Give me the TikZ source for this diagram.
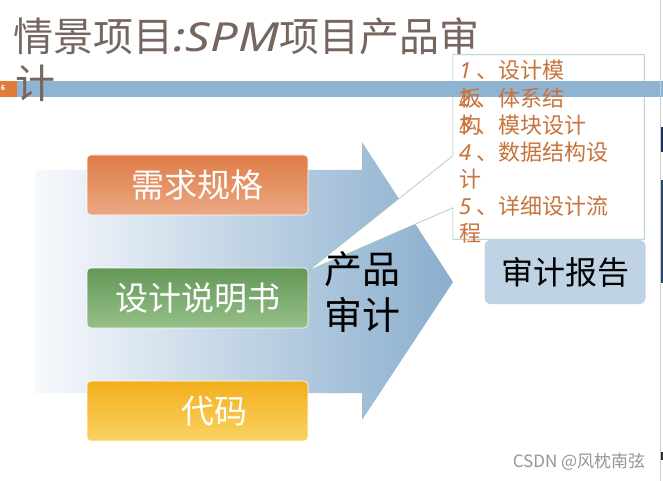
\documentclass[tikz,border=0pt]{standalone}
\usepackage{fontspec}
\setmainfont{Noto Sans CJK SC}
\newfontfamily\latinit{Noto Sans}
\usetikzlibrary{calc}
\definecolor{titlegray}{HTML}{76665F}
\definecolor{barblue}{HTML}{8FB4D1}
\definecolor{tabor}{HTML}{E07B39}
\definecolor{calltext}{HTML}{C7733B}
\definecolor{callline}{HTML}{9CC6B6}
\definecolor{reportfill}{HTML}{BFD3E5}
\definecolor{arrowL}{HTML}{F7F9FC}
\definecolor{arrowR}{HTML}{8AAECD}
\definecolor{orT}{HTML}{DF7C46}
\definecolor{orB}{HTML}{EBA884}
\definecolor{grT}{HTML}{649758}
\definecolor{grB}{HTML}{96C088}
\definecolor{yeT}{HTML}{F3AF1C}
\definecolor{yeB}{HTML}{F9D262}
\definecolor{wmgray}{HTML}{969696}
\definecolor{edgeA}{HTML}{1E325A}
\definecolor{edgeB}{HTML}{28466E}
\definecolor{edgeC}{HTML}{282828}
\newcommand{\numx}[1]{\makebox[17pt][l]{\latinit\itshape #1}}
\tikzset{
  inbox/.style={rectangle, rounded corners=4pt, minimum width=221pt, minimum height=60pt,
    draw=white, line width=0.6pt, text=white, font=\fontsize{33}{36}\selectfont, inner sep=0pt},
  calltxt/.style={anchor=west, inner sep=0pt, text=calltext, font=\fontsize{22}{24}\selectfont},
  titletxt/.style={anchor=base west, inner sep=0pt, text=titlegray, font=\fontsize{40}{40}\selectfont},
}
\begin{document}
\begin{tikzpicture}[x=1pt,y=-1pt]
\useasboundingbox (0,0) rectangle (663,481);
\fill[white] (0,0) rectangle (663,481);
% big arrow
\shade[left color=arrowL, right color=arrowR]
  (35,170) -- (362,170) -- (362,142) -- (453,282) -- (362,420) -- (362,393) -- (35,393) -- cycle;
% input boxes
\node[inbox, top color=orT, bottom color=orB] (req) at (197.5,185) {需求规格};
\node[inbox, top color=grT, bottom color=grB] (spec) at (197.5,298) {设计说明书};
\node[inbox, top color=yeT, bottom color=yeB] (code) at (197.5,411) {\hspace*{33pt}代码};
% callout box
\node[rectangle, minimum width=191pt, minimum height=184pt, inner sep=0pt] (call) at (548.5,147) {};
\coordinate (tip) at ($(spec.north east)+(0,3)$);
\filldraw[fill=white, draw=callline, line width=0.6pt]
  (call.north west) -- ($(call.north west)+(0,101)$) -- (tip) -- ($(call.north west)+(0,153)$)
  -- (call.south west) -- (call.south east) -- (call.north east) -- cycle;
% header bar
\fill[barblue] (0,81) rectangle (663,97);
\fill[tabor] (0,81) rectangle (17,97);
\node[text=white, font=\fontsize{7}{8}\selectfont\bfseries, inner sep=0pt] (pg) at (3,88) {6};
% callout texts
\node[calltxt] (c1) at (459,70) {\numx{1}、设计模};
\node[calltxt] (c2a) at (459,98) {板};
\node[calltxt] (c2) at (459,98) {\numx{2}、体系结};
\node[calltxt] (c3a) at (459,125) {构};
\node[calltxt] (c3) at (459,125) {\numx{3}、模块设计};
\node[calltxt] (c4) at (459,152) {\numx{4}、数据结构设};
\node[calltxt] (c5) at (459,179) {计};
\node[calltxt] (c6) at (459,206) {\numx{5}、详细设计流};
\node[calltxt] (c7) at (459,233) {程};
% title
\node[titletxt] (t1) at (13,52)
  {情景项目\scalebox{1.22}[1]{\latinit\itshape :SPM}项目产品审};
\node[titletxt] (t2) at (15,99) {计};
% centre label
\node[inner sep=0pt, align=center, font=\fontsize{38}{46}\selectfont, text=black] (audit) at (362,292) {产品\\审计};
% report box
\node[rectangle, rounded corners=6pt, fill=reportfill, minimum width=161pt, minimum height=64pt,
  inner sep=0pt, font=\fontsize{32}{34}\selectfont, text=black] (rep) at (565,272) {审计报告};
% watermark
\node[inner sep=0pt, text=wmgray, font=\fontsize{17}{18}\selectfont] (wm) at (579,462) {CSDN @风枕南弦};
% right edge screen fragments
\draw[gray!40, line width=0.8pt] (660,0) -- (660,481);
\fill[edgeA] (661,127) rectangle (663,152);
\fill[edgeB] (661,180) rectangle (663,283);
\fill[edgeC] (661,452) rectangle (663,460);
\end{tikzpicture}
\end{document}
